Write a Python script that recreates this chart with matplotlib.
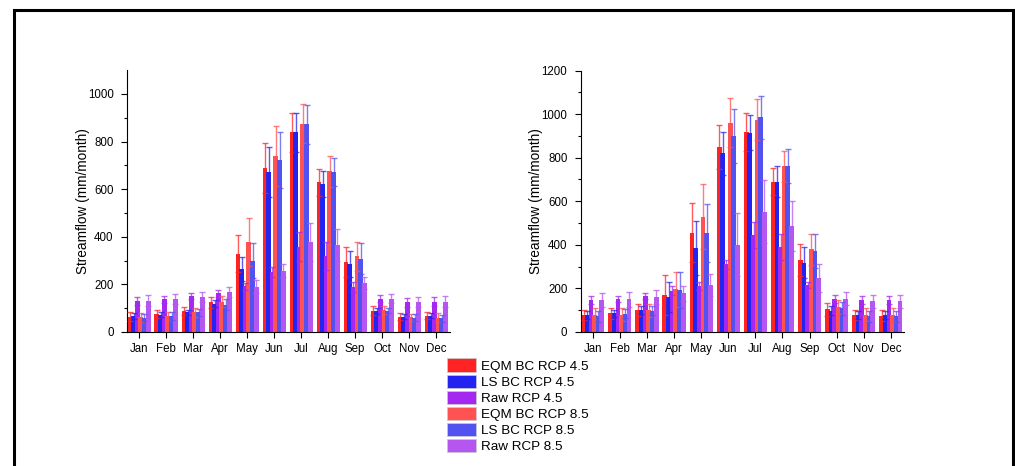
import numpy as np
import matplotlib.pyplot as plt
from matplotlib.patches import Patch, Rectangle

plt.rcParams['font.family'] = ['Liberation Sans', 'DejaVu Sans']

months = ['Jan', 'Feb', 'Mar', 'Apr', 'May', 'Jun', 'Jul', 'Aug', 'Sep', 'Oct', 'Nov', 'Dec']
labels = ['EQM BC RCP 4.5', 'LS BC RCP 4.5', 'Raw RCP 4.5',
          'EQM BC RCP 8.5', 'LS BC RCP 8.5', 'Raw RCP 8.5']
colors = ['#ff2424', '#2424f0', '#a428f0', '#ff5252', '#5252f0', '#b656f0']

# left panel: mean streamflow and error per series
left_eqm45 = [65, 75, 88, 125, 328, 688, 838, 628, 295, 90, 65, 68]
left_eqm45_err = [18, 17, 15, 24, 78, 105, 82, 58, 63, 18, 15, 15]
left_ls45 = [68, 72, 82, 118, 265, 670, 838, 620, 285, 88, 65, 68]
left_ls45_err = [12, 10, 12, 15, 52, 105, 82, 55, 55, 12, 10, 10]
left_raw45 = [130, 138, 150, 162, 192, 252, 358, 320, 188, 140, 125, 128]
left_raw45_err = [18, 15, 13, 15, 15, 20, 60, 60, 20, 15, 18, 17]
left_eqm85 = [62, 68, 82, 128, 378, 740, 875, 675, 318, 92, 62, 60]
left_eqm85_err = [18, 18, 18, 22, 100, 125, 82, 65, 62, 18, 15, 18]
left_ls85 = [60, 66, 82, 115, 300, 722, 872, 672, 308, 90, 60, 58]
left_ls85_err = [15, 16, 13, 22, 75, 118, 82, 60, 65, 12, 15, 15]
left_raw85 = [132, 138, 148, 168, 190, 258, 378, 365, 205, 140, 125, 128]
left_raw85_err = [22, 22, 20, 20, 28, 28, 78, 68, 25, 18, 20, 22]

# right panel
right_eqm45 = [78, 85, 102, 170, 455, 850, 918, 690, 330, 105, 78, 75]
right_eqm45_err = [25, 25, 28, 92, 135, 100, 88, 62, 72, 30, 25, 25]
right_ls45 = [78, 85, 102, 160, 385, 820, 915, 690, 318, 98, 78, 78]
right_ls45_err = [18, 18, 18, 70, 125, 100, 80, 70, 70, 22, 18, 18]
right_raw45 = [148, 152, 165, 190, 210, 310, 445, 390, 215, 150, 145, 145]
right_raw45_err = [18, 15, 15, 20, 18, 20, 60, 58, 15, 18, 18, 18]
right_eqm85 = [78, 80, 100, 195, 530, 960, 975, 760, 380, 115, 80, 78]
right_eqm85_err = [30, 30, 30, 80, 148, 112, 95, 70, 72, 32, 28, 30]
right_ls85 = [72, 84, 98, 192, 455, 900, 985, 760, 372, 108, 72, 72]
right_ls85_err = [25, 22, 22, 82, 132, 125, 100, 78, 80, 30, 25, 25]
right_raw85 = [145, 150, 162, 178, 215, 400, 552, 487, 248, 152, 140, 140]
right_raw85_err = [32, 35, 32, 35, 50, 145, 145, 115, 65, 30, 30, 30]

left_series = [(left_eqm45, left_eqm45_err), (left_ls45, left_ls45_err), (left_raw45, left_raw45_err),
               (left_eqm85, left_eqm85_err), (left_ls85, left_ls85_err), (left_raw85, left_raw85_err)]
right_series = [(right_eqm45, right_eqm45_err), (right_ls45, right_ls45_err), (right_raw45, right_raw45_err),
                (right_eqm85, right_eqm85_err), (right_ls85, right_ls85_err), (right_raw85, right_raw85_err)]

fig = plt.figure(figsize=(10.15, 4.66), dpi=100)
ax1 = fig.add_axes([0.125, 0.2876, 0.318, 0.562])
ax2 = fig.add_axes([0.572, 0.2876, 0.319, 0.561])

x = np.arange(len(months))
step = 0.135
width = 0.18


def draw(ax, series, ymax):
    for i, (vals, errs) in enumerate(series):
        pos = x + (i - 2.5) * step
        ax.bar(pos, vals, width=width, color=colors[i], zorder=2)
        ax.errorbar(pos, vals, yerr=errs, fmt='none', ecolor=colors[i], alpha=0.75,
                    elinewidth=1, capsize=2.5, capthick=1, zorder=3)
    ax.set_xlim(-0.45, 11.5)
    ax.set_ylim(0, ymax)
    ax.set_xticks(x)
    ax.set_xticklabels(months, fontsize=8.3)
    ax.set_yticks(np.arange(0, ymax + 1, 200))
    ax.set_yticks(np.arange(100, ymax, 200), minor=True)
    ax.tick_params(axis='y', labelsize=8.3, length=4.5, width=0.8, pad=5)
    ax.tick_params(axis='y', which='minor', length=2.5, width=0.8)
    ax.tick_params(axis='x', length=4, width=0.8, pad=4)
    ax.spines['top'].set_visible(False)
    ax.spines['right'].set_visible(False)
    ax.set_ylabel('Streamflow (mm/month)', fontsize=9.8)
    ax.yaxis.set_label_coords(-0.115, 0.5)


draw(ax1, left_series, 1100)
draw(ax2, right_series, 1200)

handles = [Patch(facecolor=c, edgecolor='#cccccc', linewidth=0.5) for c in colors]
fig.legend(handles, labels, loc='upper left', bbox_to_anchor=(0.431, 1 - 349 / 466),
           frameon=False, fontsize=9.7, handlelength=2.15, handleheight=1.15,
           labelspacing=0.14, handletextpad=0.37, borderpad=0.2)

# outer frame around the figure
fig.patches.append(Rectangle((14 / 1015, -0.05), (1013 - 14) / 1015, 1.05 - 10 / 466,
                             transform=fig.transFigure, fill=False,
                             edgecolor='black', linewidth=2.2, clip_on=False))

fig.savefig('out.png', dpi=100)
